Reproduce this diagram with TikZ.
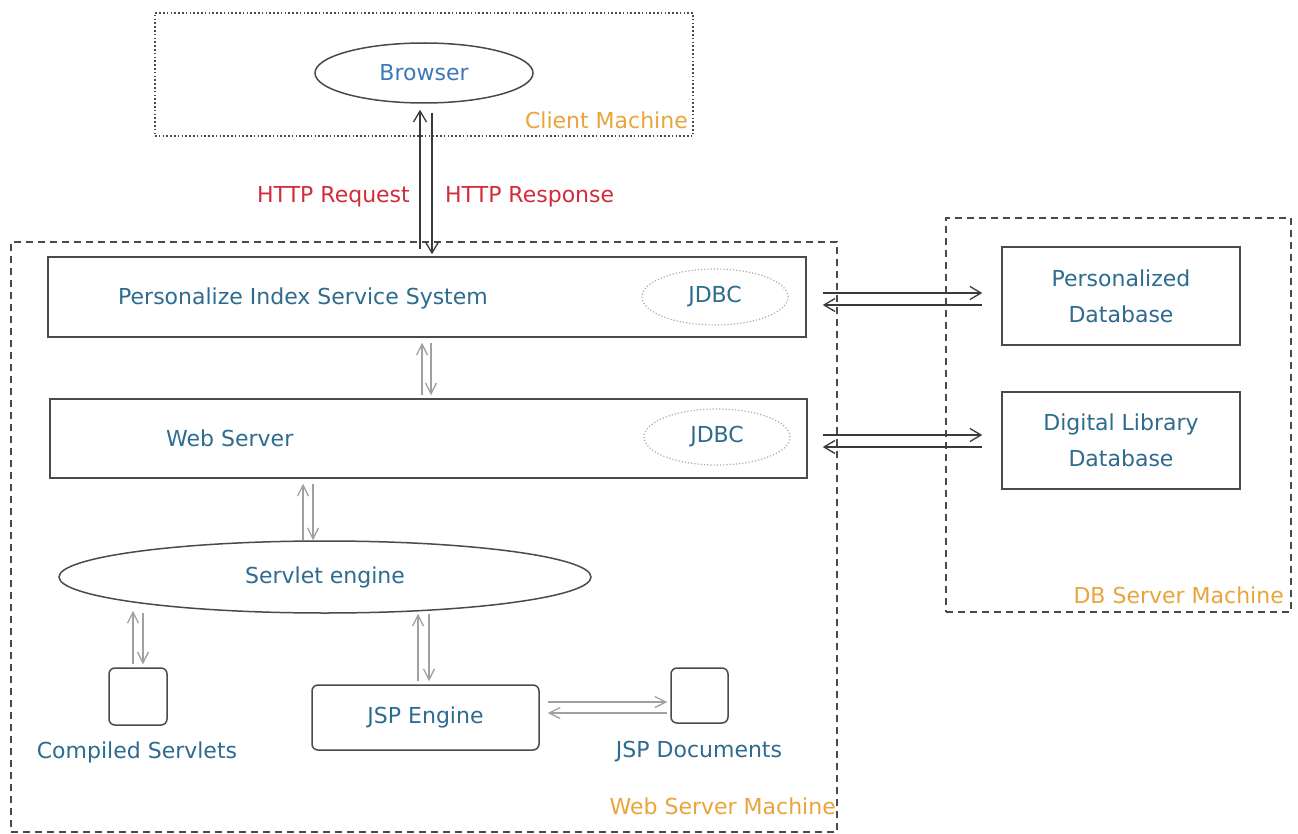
\documentclass[tikz,border=0pt]{standalone}
\usepackage{fontspec}
\setmainfont{DejaVu Sans}
\usetikzlibrary{arrows.meta,shapes.geometric}

\definecolor{txtblue}{HTML}{2D6B8F}
\definecolor{brblue}{HTML}{3A78B8}
\definecolor{httpred}{HTML}{D22B3C}
\definecolor{machorange}{HTML}{E9A43A}
\definecolor{edgegray}{HTML}{4A4A4A}
\definecolor{arrdark}{HTML}{3A3A3A}
\definecolor{arrlight}{HTML}{A0A0A0}
\definecolor{jdbcgray}{HTML}{AAAAAA}

\begin{document}
\begin{tikzpicture}[x=1pt,y=-1pt,
  font=\fontsize{22}{26}\selectfont,
  block/.style={draw=edgegray, line width=1.5pt, rectangle, inner sep=0pt},
  rblock/.style={block, rounded corners=6pt},
  oval/.style={draw=edgegray, line width=1.5pt, ellipse, inner sep=0pt},
  jdbc/.style={draw=jdbcgray, line width=1.2pt, dotted, ellipse, inner sep=0pt,
    minimum width=146pt, minimum height=56pt, text=txtblue},
  machine/.style={draw=edgegray, line width=1.3pt, dash pattern=on 7pt off 5pt, inner sep=0pt},
  clientbox/.style={draw=edgegray, line width=1.3pt, dash pattern=on 1.6pt off 2.2pt, inner sep=0pt},
  lbl/.style={text=txtblue, inner sep=0pt},
  mlbl/.style={text=machorange, inner sep=0pt, anchor=east},
  hlbl/.style={text=httpred, inner sep=0pt},
  darr/.style={draw=arrdark, line width=1.3pt, -{Straight Barb[length=11pt,width=13pt]}},
  larr/.style={draw=arrlight, line width=1.3pt, -{Straight Barb[length=11pt,width=11pt]}},
]
\useasboundingbox (0,0) rectangle (1298,834);
\fill[white] (0,0) rectangle (1298,834);

% client side
\node[clientbox, minimum width=538pt, minimum height=123pt] (client) at (424,74.5) {};
\node[oval, minimum width=218pt, minimum height=60pt, text=brblue] (browser) at (424,73) {Browser};
\node[mlbl] (clientlbl) at (688,120) {Client Machine};

% web server machine
\node[machine, minimum width=826pt, minimum height=590pt] (wsm) at (424,537) {};
\node[mlbl] (wsmlbl) at (836,806) {Web Server Machine};

\node[block, minimum width=758pt, minimum height=80pt] (piss) at (427,297) {};
\node[lbl, anchor=west] (pisstxt) at (118,298) {Personalize Index Service System};
\node[jdbc] (jdbc1) at (715,297) {JDBC};

\node[block, minimum width=757pt, minimum height=79pt] (ws) at (428.5,438.5) {};
\node[lbl, anchor=west] (wstxt) at (166,438) {Web Server};
\node[jdbc] (jdbc2) at (717,437) {JDBC};

\node[oval, minimum width=532pt, minimum height=72pt, text=txtblue] (servlet) at (325,577) {Servlet engine};

\node[rblock, minimum width=58pt, minimum height=57pt] (cs) at (138,696.5) {};
\node[lbl] (cstxt) at (137,752) {Compiled Servlets};

\node[rblock, minimum width=227pt, minimum height=65pt, text=txtblue] (jspe) at (425.5,717.5) {JSP Engine};

\node[rblock, minimum width=57pt, minimum height=55pt] (jspd) at (699.5,695.5) {};
\node[lbl] (jspdtxt) at (699,752) {JSP Documents};

% database server machine
\node[machine, minimum width=345pt, minimum height=394pt] (dbm) at (1118.5,415) {};
\node[mlbl] (dbmlbl) at (1284,595) {DB Server Machine};
\node[block, minimum width=238pt, minimum height=98pt, text=txtblue, align=center,
  font=\fontsize{22}{36}\selectfont] (pdb) at (1121,296) {Personalized\\Database};
\node[block, minimum width=238pt, minimum height=97pt, text=txtblue, align=center,
  font=\fontsize{22}{36}\selectfont] (dldb) at (1121,440.5) {Digital Library\\Database};

% HTTP traffic
\draw[darr, shorten <=7pt, shorten >=6pt] (420,0 |- piss.north) -- (420,0 |- browser.south);
\draw[darr, shorten <=9pt, shorten >=2pt] (432,0 |- browser.south) -- (432,0 |- piss.north);
\node[hlbl, anchor=east] (req) at (410,197) {HTTP Request};
\node[hlbl, anchor=west] (resp) at (445,197) {HTTP Response};

% JDBC links
\draw[darr, shorten <=16pt, shorten >=19pt] (piss.east |- 0,293) -- (pdb.west |- 0,293);
\draw[darr, shorten <=19pt, shorten >=16pt] (pdb.west |- 0,305) -- (piss.east |- 0,305);
\draw[darr, shorten <=15pt, shorten >=19pt] (ws.east |- 0,435) -- (dldb.west |- 0,435);
\draw[darr, shorten <=19pt, shorten >=15pt] (dldb.west |- 0,447) -- (ws.east |- 0,447);

% internal links
\draw[larr, shorten <=3pt, shorten >=5pt] (422,0 |- ws.north) -- (422,0 |- piss.south);
\draw[larr, shorten <=5pt, shorten >=3pt] (431,0 |- piss.south) -- (431,0 |- ws.north);

\draw[larr, shorten >=5pt] (303,0 |- servlet.north) -- (303,0 |- ws.south);
\draw[larr, shorten <=5pt] (313,0 |- ws.south) -- (313,0 |- servlet.north);

\draw[larr, shorten <=3pt, shorten >=-3pt] (133,0 |- cs.north) -- (133,0 |- servlet.south);
\draw[larr, shorten <=-1pt, shorten >=3pt] (143,0 |- servlet.south) -- (143,0 |- cs.north);

\draw[larr, shorten <=3pt] (418,0 |- jspe.north) -- (418,0 |- servlet.south);
\draw[larr, shorten >=3pt] (429,0 |- servlet.south) -- (429,0 |- jspe.north);

\draw[larr, shorten <=8pt, shorten >=3pt] (jspe.east |- 0,702) -- (jspd.west |- 0,702);
\draw[larr, shorten <=3pt, shorten >=8pt] (jspd.west |- 0,713) -- (jspe.east |- 0,713);
\end{tikzpicture}
\end{document}
